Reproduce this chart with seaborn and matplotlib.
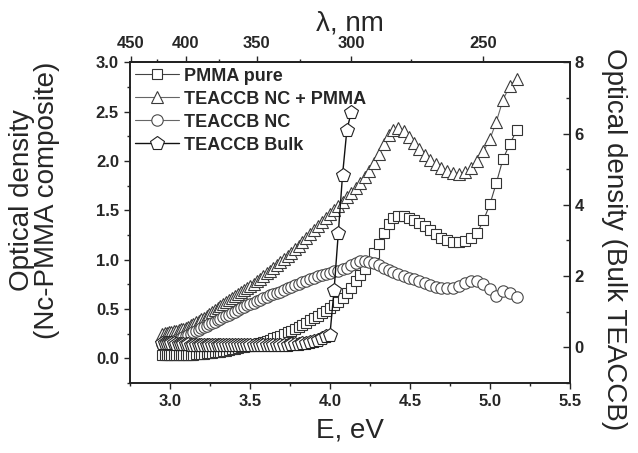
import numpy as np
import pandas as pd
import matplotlib
matplotlib.use("Agg")
import matplotlib.pyplot as plt
import seaborn as sns
from matplotlib.ticker import MultipleLocator, FixedLocator

HC = 1239.84  # eV*nm

# ---- data ----
wavelength_nm = [420, 418, 416, 414, 412, 410, 408, 406, 404, 402,
                 400, 398, 396, 394, 392, 390, 388, 386, 384, 382,
                 380, 378, 376, 374, 372, 370, 368, 366, 364, 362,
                 360, 358, 356, 354, 352, 350, 348, 346, 344, 342,
                 340, 338, 336, 334, 332, 330, 328, 326, 324, 322,
                 320, 318, 316, 314, 312, 310, 308, 306, 304, 302,
                 300, 298, 296, 294, 292, 290, 288, 286, 284, 282,
                 280, 278, 276, 274, 272, 270, 268, 266, 264, 262,
                 260, 258, 256, 254, 252, 250, 248, 246, 244, 242, 240]

pmma_pure = [0.03, 0.03, 0.03, 0.03, 0.03, 0.03, 0.03, 0.03, 0.03, 0.03,
             0.03, 0.03, 0.03, 0.03, 0.04, 0.04, 0.04, 0.04, 0.05, 0.05,
             0.05, 0.06, 0.06, 0.06, 0.07, 0.07, 0.08, 0.09, 0.09, 0.10,
             0.11, 0.11, 0.12, 0.13, 0.14, 0.15, 0.16, 0.17, 0.18, 0.19,
             0.21, 0.22, 0.23, 0.25, 0.27, 0.28, 0.30, 0.32, 0.34, 0.36,
             0.39, 0.41, 0.43, 0.46, 0.48, 0.51, 0.54, 0.57, 0.61, 0.66,
             0.71, 0.78, 0.84, 0.91, 0.99, 1.07, 1.16, 1.27, 1.36, 1.42,
             1.44, 1.44, 1.42, 1.40, 1.37, 1.34, 1.30, 1.26, 1.22, 1.20,
             1.18, 1.18, 1.19, 1.22, 1.27, 1.40, 1.56, 1.78, 2.02, 2.17, 2.31]

nc_pmma = [0.25, 0.255, 0.26, 0.27, 0.27, 0.28, 0.28, 0.29, 0.30, 0.30,
           0.31, 0.32, 0.34, 0.35, 0.37, 0.38, 0.40, 0.41, 0.43, 0.45,
           0.47, 0.49, 0.51, 0.53, 0.55, 0.57, 0.59, 0.61, 0.63, 0.65,
           0.67, 0.69, 0.71, 0.73, 0.75, 0.78, 0.80, 0.83, 0.86, 0.89,
           0.92, 0.95, 0.98, 1.01, 1.04, 1.07, 1.11, 1.14, 1.18, 1.22,
           1.26, 1.30, 1.34, 1.38, 1.42, 1.46, 1.50, 1.54, 1.58, 1.63,
           1.68, 1.73, 1.78, 1.84, 1.90, 1.98, 2.07, 2.17, 2.26, 2.31,
           2.33, 2.30, 2.24, 2.18, 2.12, 2.06, 2.01, 1.97, 1.93, 1.90,
           1.88, 1.87, 1.89, 1.93, 2.00, 2.10, 2.22, 2.40, 2.62, 2.76, 2.83]

nc = [0.15, 0.155, 0.16, 0.17, 0.17, 0.18, 0.19, 0.19, 0.21, 0.22,
      0.23, 0.24, 0.25, 0.27, 0.28, 0.29, 0.31, 0.32, 0.33, 0.35,
      0.36, 0.37, 0.39, 0.40, 0.42, 0.43, 0.44, 0.46, 0.47, 0.49,
      0.51, 0.52, 0.54, 0.55, 0.56, 0.58, 0.59, 0.61, 0.62, 0.64,
      0.65, 0.66, 0.67, 0.69, 0.71, 0.72, 0.74, 0.75, 0.77, 0.78,
      0.80, 0.81, 0.83, 0.84, 0.85, 0.86, 0.88, 0.89, 0.91, 0.92,
      0.95, 0.97, 0.99, 0.99, 0.98, 0.97, 0.95, 0.92, 0.90, 0.87,
      0.85, 0.83, 0.81, 0.80, 0.78, 0.76, 0.74, 0.72, 0.71, 0.71,
      0.71, 0.73, 0.76, 0.78, 0.78, 0.75, 0.70, 0.63, 0.68, 0.66, 0.62]

bulk_wavelength_nm = [420, 418, 416, 414, 412, 410, 408, 406, 404, 402,
                      400, 398, 396, 394, 392, 390, 388, 386, 384, 382,
                      380, 378, 376, 374, 372, 370, 368, 366, 364, 362,
                      360, 358, 356, 354, 352, 350, 348, 346, 344, 342,
                      340, 338, 336, 334, 332, 330, 328, 326, 324, 322,
                      320, 318, 316, 314, 312, 310, 308, 306, 304, 302, 300]

bulk = [0.12, 0.12, 0.12, 0.11, 0.11, 0.11, 0.10, 0.10, 0.10, 0.09,
        0.09, 0.09, 0.08, 0.08, 0.08, 0.07, 0.07, 0.07, 0.07, 0.06,
        0.06, 0.06, 0.06, 0.06, 0.06, 0.06, 0.06, 0.06, 0.06, 0.06,
        0.06, 0.06, 0.06, 0.06, 0.06, 0.06, 0.06, 0.06, 0.06, 0.07,
        0.07, 0.07, 0.07, 0.08, 0.08, 0.09, 0.09, 0.10, 0.11, 0.12,
        0.14, 0.17, 0.21, 0.26, 0.31, 0.35, 1.61, 3.20, 4.84, 6.10, 6.60]

series_labels = ["PMMA pure", "TEACCB NC + PMMA", "TEACCB NC", "TEACCB Bulk"]
top_ticks_nm = [450, 400, 350, 300, 250]
top_minor_nm = [425, 375, 325, 275]

# ---- style ----
sns.set_style("ticks")
plt.rcParams["font.family"] = ["Liberation Sans", "DejaVu Sans"]
plt.rcParams["axes.linewidth"] = 1.2

fig = plt.figure(figsize=(6.38, 4.53), dpi=100)
ax = fig.add_axes([130 / 638, 1 - 383 / 453, 440 / 638, 320.7 / 453])
ax2 = ax.twinx()


def to_df(wl, vals):
    wl = np.asarray(wl, dtype=float)
    return pd.DataFrame({"E": HC / wl, "OD": vals})


styles = [
    dict(marker="s", ms=7.3, mec="#333333", color="#444444"),
    dict(marker="^", ms=9.0, mec="#3a3a3a", color="#666666"),
    dict(marker="o", ms=8.2, mec="#4a4a4a", color="#666666"),
]
handles = []
for vals, st in zip([pmma_pure, nc_pmma, nc], styles):
    sns.lineplot(data=to_df(wavelength_nm, vals), x="E", y="OD", ax=ax,
                 marker=st["marker"], markersize=st["ms"], markerfacecolor="white",
                 markeredgecolor=st["mec"], markeredgewidth=0.8,
                 color=st["color"], linewidth=0.8, legend=False)
    handles.append(ax.lines[-1])

sns.lineplot(data=to_df(bulk_wavelength_nm, bulk), x="E", y="OD", ax=ax2,
             marker="p", markersize=10, markerfacecolor="white",
             markeredgecolor="#222222", markeredgewidth=0.8,
             color="#111111", linewidth=1.0, legend=False)
handles.append(ax2.lines[-1])

# ---- axes ----
ax.set_xlim(2.75, 5.5)
ax.set_ylim(-0.25, 3.0)
ax2.set_ylim(-1, 8)

ax.xaxis.set_major_locator(MultipleLocator(0.5))
ax.xaxis.set_minor_locator(MultipleLocator(0.25))
ax.yaxis.set_major_locator(MultipleLocator(0.5))
ax.yaxis.set_minor_locator(MultipleLocator(0.25))
ax2.yaxis.set_major_locator(MultipleLocator(2))
ax2.yaxis.set_minor_locator(MultipleLocator(1))

ax.tick_params(axis="x", which="both", direction="out", top=False, labelsize=12)
ax.tick_params(axis="y", which="both", direction="out", right=False, labelsize=12)
ax.tick_params(which="major", length=4.5, width=1.0)
ax.tick_params(which="minor", length=2.5, width=1.0)
ax2.tick_params(axis="y", which="both", direction="in", labelsize=12)
ax2.tick_params(which="major", length=5, width=1.0)
ax2.tick_params(which="minor", length=3, width=1.0)

for spine in list(ax.spines.values()) + list(ax2.spines.values()):
    spine.set_visible(True)
    spine.set_linewidth(1.2)
    spine.set_color("#222222")


def e_to_nm(x):
    x = np.asarray(x, dtype=float)
    return HC / np.where(np.abs(x) < 1e-9, 1e-9, x)


secax = ax.secondary_xaxis("top", functions=(e_to_nm, e_to_nm))
secax.xaxis.set_major_locator(FixedLocator(top_ticks_nm))
secax.xaxis.set_minor_locator(FixedLocator(top_minor_nm))
secax.tick_params(which="both", direction="out", labelsize=12)
secax.tick_params(which="major", length=4.5, width=1.0)
secax.tick_params(which="minor", length=2.5, width=1.0)
secax.spines["top"].set_linewidth(1.2)

for lab in (ax.get_xticklabels() + ax.get_yticklabels() + ax2.get_yticklabels()
            + secax.get_xticklabels()):
    lab.set_fontweight("bold")

ax.set_xlabel("E, eV", fontsize=20, labelpad=6)
ax.set_ylabel("Optical density\n(Nc-PMMA composite)", fontsize=20, linespacing=0.95,
              labelpad=10)
ax.yaxis.set_label_coords(-0.16, 0.57)
ax2.set_ylabel("Optical density (Bulk TEACCB)", fontsize=20, rotation=-90,
               va="bottom", labelpad=12)
ax2.yaxis.set_label_coords(1.07, 0.45)
secax.set_xlabel("λ, nm", fontsize=20, labelpad=4)

leg = ax2.legend(handles, series_labels, loc="upper left", frameon=False,
                 prop={"weight": "bold", "size": 13}, handlelength=2.4,
                 handletextpad=0.3, labelspacing=0.33, borderaxespad=0.1,
                 borderpad=0.2, numpoints=1)

fig.savefig("out.png", dpi=100)
